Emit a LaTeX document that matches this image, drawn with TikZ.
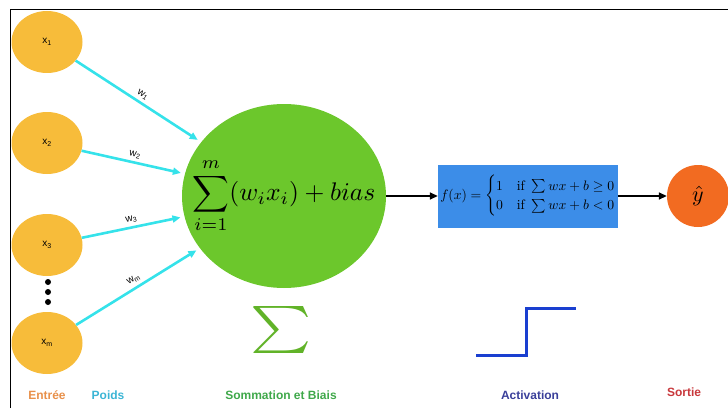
\documentclass[tikz,border=0pt]{standalone}
\usepackage{amsmath}
\usepackage{graphicx}
\usepackage{fontspec}
\newfontfamily\labelfont{Liberation Sans}
\usetikzlibrary{shapes.geometric,arrows.meta}
\definecolor{inputcol}{HTML}{F7BC3A}
\definecolor{sumcol}{HTML}{6CC72C}
\definecolor{actcol}{HTML}{3C8DE8}
\definecolor{outcol}{HTML}{F26B21}
\definecolor{weightcol}{HTML}{35E2EA}
\definecolor{entreecol}{HTML}{E8904A}
\definecolor{poidscol}{HTML}{3BB5D5}
\definecolor{sommecol}{HTML}{3FA84A}
\definecolor{activcol}{HTML}{3A3F9A}
\definecolor{sortiecol}{HTML}{C8383C}
\definecolor{stepcol}{HTML}{1A3FD0}
\begin{document}
\begin{tikzpicture}[x=1pt, y=1pt,
			input/.style={ellipse, fill=inputcol, minimum width=71pt, minimum height=62pt, inner sep=0pt, font=\labelfont},
			weight/.style={-{Triangle[length=8pt,width=7pt]}, line width=2.6pt, draw=weightcol, shorten >=4pt},
			arrow/.style={-{Triangle[length=8pt,width=7pt]}, line width=1.6pt},
			wlabel/.style={midway, above, sloped, font=\labelfont},
			legend/.style={font=\labelfont\bfseries\fontsize{12}{14}\selectfont},
			dot/.style={circle, fill=black, minimum size=6pt, inner sep=0pt},
		]
		\useasboundingbox (0,0) rectangle (728,408);
		\draw[line width=1pt] (10,0) -- (10,398) -- (728,398);

		\node[input] (x1) at (47, 366) {x\textsubscript{1}};
		\node[input] (x2) at (47, 265) {x\textsubscript{2}};
		\node[input] (x3) at (47, 163) {x\textsubscript{3}};
		\node[input] (xm) at (47, 65)  {x\textsubscript{m}};
		\node[dot] (d1) at (48, 126) {};
		\node[dot] (d2) at (48, 116) {};
		\node[dot] (d3) at (48, 106) {};

		\node[ellipse, fill=sumcol, minimum width=204pt, minimum height=184pt, inner xsep=-20pt, inner ysep=0pt] (sum) at (284, 212)
			{\scalebox{2.55}{$\displaystyle\sum_{i=1}^{m}(w_ix_i)+bias$}};
		\node[rectangle, fill=actcol, minimum width=180pt, minimum height=63pt, inner sep=0pt] (act) at (528, 212)
			{\scalebox{1.37}{$f(x)=\begin{cases}1 & \mathrm{if}\ \sum wx+b\geq 0\\ 0 & \mathrm{if}\ \sum wx+b<0\end{cases}$}};
		\node[circle, fill=outcol, minimum size=62pt, inner sep=0pt] (out) at (698, 212) {\scalebox{2.2}{$\hat{y}$}};

		\draw[weight] (x1) -- node[wlabel] {w\textsubscript{1}} (sum);
		\draw[weight] (x2) -- node[wlabel] {w\textsubscript{2}} (sum);
		\draw[weight] (x3) -- node[wlabel] {w\textsubscript{3}} (sum);
		\draw[weight] (xm) -- node[wlabel] {w\textsubscript{m}} (sum);
		\draw[arrow] (sum) -- (act);
		\draw[arrow] (act) -- (out);

		\node[text=sumcol!90!black] (sigma) at (281, 78) {\scalebox{5.8}[4.7]{$\sum$}};
		\coordinate (s0) at (476, 53);
		\coordinate (s1) at (526, 53);
		\coordinate (s2) at (526, 100);
		\coordinate (s3) at (576, 100);
		\draw[stepcol, line width=3pt] (s0) -- (s1) -- (s2) -- (s3);

		\node[legend, text=entreecol]  (lin)  at (47, 13)  {Entrée};
		\node[legend, text=poidscol]   (lw)   at (108, 13) {Poids};
		\node[legend, text=sommecol]   (lsum) at (281, 13) {Sommation et Biais};
		\node[legend, text=activcol]   (lact) at (530, 13) {Activation};
		\node[legend, text=sortiecol]  (lout) at (684, 16) {Sortie};
	\end{tikzpicture}
\end{document}
